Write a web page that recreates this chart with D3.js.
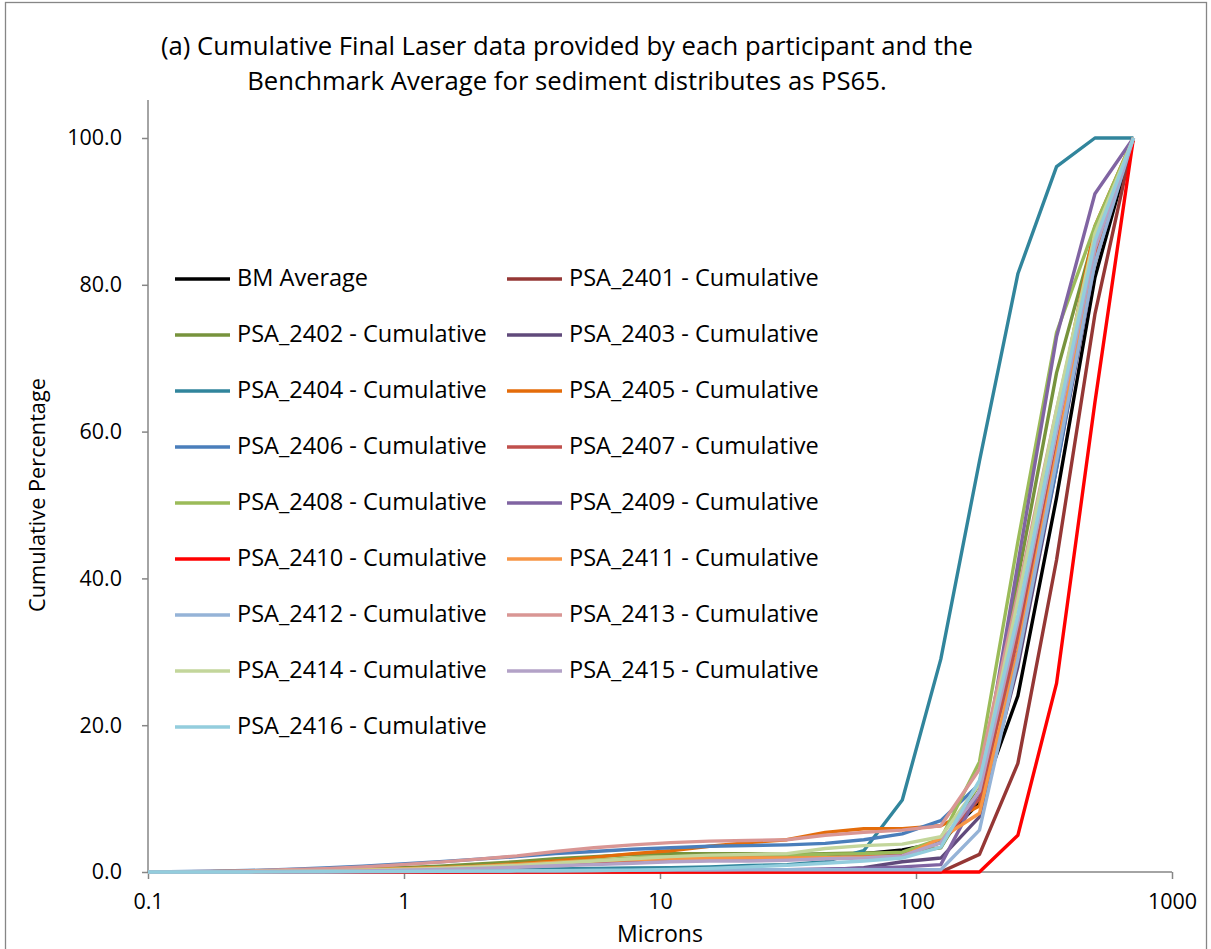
<!DOCTYPE html>
<html>
<head>
<meta charset="utf-8">
<script src="https://cdn.jsdelivr.net/npm/d3@7"></script>
<style>
  html, body { margin: 0; padding: 0; background: #fff; }
  svg { display: block; font-family: "Open Sans", Lato, sans-serif; }
</style>
</head>
<body>
<svg id="chart" width="1211" height="949"></svg>
<script>
// ---- data ----
const sizes = [0.1, 0.122, 0.173, 0.244, 0.345, 0.488, 0.691, 0.977, 1.38, 1.95, 2.76, 3.91, 5.52, 7.81, 11.0, 15.6, 22.1, 31.3, 44.2, 62.5, 88.4, 125, 177, 250, 354, 500, 707];

const seriesNames = ["BM Average", "PSA_2401 - Cumulative", "PSA_2402 - Cumulative", "PSA_2403 - Cumulative",
  "PSA_2404 - Cumulative", "PSA_2405 - Cumulative", "PSA_2406 - Cumulative", "PSA_2407 - Cumulative",
  "PSA_2408 - Cumulative", "PSA_2409 - Cumulative", "PSA_2410 - Cumulative", "PSA_2411 - Cumulative",
  "PSA_2412 - Cumulative", "PSA_2413 - Cumulative", "PSA_2414 - Cumulative", "PSA_2415 - Cumulative",
  "PSA_2416 - Cumulative"];

const seriesColors = ["#000000", "#953735", "#77933C", "#604A7B", "#31859C", "#E46C0A", "#4A7EBB", "#C0504D",
  "#9BBB59", "#8064A2", "#FF0000", "#F79646", "#95B3D7", "#D99694", "#C3D69B", "#B3A2C7", "#93CDDD"];

const bmAverage = [0,0,0.02,0.05,0.1,0.15,0.25,0.35,0.5,0.7,0.9,1.1,1.3,1.5,1.7,1.8,1.9,2.0,2.2,2.5,3.0,4.0,9.5,24,51,81,100];
const psa2401 = [0,0,0,0,0,0,0,0,0,0,0,0,0,0,0,0,0,0,0,0,0,0,2.4,14.8,42.5,76,100];
const psa2402 = [0,0.02,0.05,0.1,0.2,0.3,0.45,0.6,0.8,1.1,1.4,1.8,2.1,2.4,2.5,2.5,2.5,2.4,2.5,2.6,2.6,3.3,12,40,68,87,100];
const psa2403 = [0,0,0,0,0,0,0,0.02,0.03,0.05,0.05,0.08,0.1,0.1,0.1,0.1,0.15,0.2,0.3,0.6,1.4,1.9,7.5,28,55,83,100];
const psa2404 = [0,0,0.01,0.02,0.05,0.08,0.12,0.18,0.25,0.3,0.35,0.4,0.5,0.55,0.6,0.7,0.9,1.0,1.4,2.9,9.8,29,56,81.5,96.1,100,100];
const psa2405 = [0,0.01,0.03,0.08,0.15,0.25,0.35,0.45,0.6,0.8,1.1,1.5,2.0,2.5,2.9,3.5,4.0,4.4,5.4,5.9,5.9,6.3,9,33,62,88,100];
const psa2406 = [0,0.05,0.1,0.2,0.35,0.55,0.8,1.1,1.4,1.75,2.1,2.5,2.8,3.1,3.3,3.5,3.6,3.7,3.9,4.4,5.2,7.0,12,30,55,84,100];
const psa2407 = [0,0.01,0.02,0.05,0.1,0.15,0.25,0.35,0.5,0.7,0.9,1.1,1.3,1.5,1.7,1.8,1.9,1.9,2.0,2.1,2.3,4.0,10,32,58,84,100];
const psa2408 = [0,0.01,0.03,0.06,0.12,0.2,0.3,0.4,0.55,0.75,1.0,1.3,1.6,1.9,2.1,2.2,2.3,2.3,2.4,2.5,2.7,4.5,15,45,73.5,88,100];
const psa2409 = [0,0,0,0,0,0,0.01,0.02,0.03,0.05,0.06,0.08,0.1,0.12,0.15,0.2,0.25,0.3,0.4,0.5,0.7,1.0,11,42,72.9,92.4,100];
const psa2410 = [0,0,0,0,0,0,0,0,0,0,0,0,0,0,0,0,0,0,0,0,0,0,0,5.0,25.7,64,100];
const psa2411 = [0,0.01,0.03,0.06,0.1,0.18,0.28,0.4,0.55,0.75,1.0,1.3,1.55,1.7,1.8,1.85,1.9,1.9,1.95,2.0,2.1,4.6,8.0,30,57,85,100];
const psa2412 = [0,0,0,0.01,0.02,0.04,0.06,0.08,0.1,0.12,0.15,0.18,0.2,0.22,0.25,0.27,0.3,0.3,0.3,0.3,0.3,0.3,5.7,29,56,83,100];
const psa2413 = [0,0.02,0.06,0.15,0.3,0.45,0.7,1.0,1.35,1.75,2.2,2.8,3.3,3.7,4.0,4.2,4.3,4.4,5.0,5.4,5.7,6.3,14,38,63,86,100];
const psa2414 = [0,0.01,0.02,0.05,0.1,0.15,0.25,0.35,0.5,0.7,0.9,1.2,1.5,1.8,2.1,2.3,2.4,2.5,3.2,3.6,3.8,4.8,12,37,63,87,100];
const psa2415 = [0,0,0.01,0.03,0.06,0.1,0.15,0.25,0.35,0.5,0.65,0.85,1.0,1.2,1.4,1.5,1.5,1.6,1.8,1.9,2.2,4.0,11,34,60,85,100];
const psa2416 = [0,0,0,0.01,0.02,0.03,0.05,0.07,0.1,0.12,0.15,0.18,0.2,0.25,0.35,0.5,0.7,0.9,1.2,1.5,1.9,3.4,12.5,35,61,86,100];

const seriesValues = [bmAverage, psa2401, psa2402, psa2403, psa2404, psa2405, psa2406, psa2407, psa2408,
  psa2409, psa2410, psa2411, psa2412, psa2413, psa2414, psa2415, psa2416];

const xTicks = [0.1, 1, 10, 100, 1000];
const yTicks = [0, 20, 40, 60, 80, 100];
const titleLines = ["(a) Cumulative Final Laser data provided by each participant and the",
  "Benchmark Average for sediment distributes as PS65."];

// ---- drawing ----
const svg = d3.select("#chart");
const axisColor = "#868686";
const FONT = "'Open Sans', Lato, sans-serif";

// fit a text element's font-size so its width matches a target width
function fitWidth(sel, target) {
  const node = sel.node();
  const fs = parseFloat(sel.attr("font-size"));
  const w = node.getComputedTextLength();
  if (w > 0) sel.attr("font-size", (fs * target / w).toFixed(2));
  return sel;
}

svg.append("rect").attr("x", 5.5).attr("y", 2.5).attr("width", 1201).attr("height", 980)
  .attr("fill", "none").attr("stroke", axisColor).attr("stroke-width", 1.3);

const x = d3.scaleLog().domain([0.1, 1000]).range([148, 1172]);
const y = d3.scaleLinear().domain([0, 100]).range([872, 138]);

// title
const t1 = svg.append("text").attr("x", 567).attr("y", 55).attr("text-anchor", "middle")
  .attr("font-size", 22).attr("fill", "#000").text(titleLines[0]);
fitWidth(t1, 812);
const titleFs = t1.attr("font-size");
svg.append("text").attr("x", 567).attr("y", 90).attr("text-anchor", "middle")
  .attr("font-size", titleFs).attr("fill", "#000").text(titleLines[1]);

const tickFs = 21.5;

// y axis
const yAxis = d3.axisLeft(y).tickValues(yTicks).tickFormat(d3.format(".1f")).tickSize(6).tickPadding(20);
const gy = svg.append("g").attr("transform", "translate(148,0)").call(yAxis);
gy.attr("font-size", tickFs).attr("font-family", FONT);
gy.select(".domain").attr("d", "M0,100V872").attr("stroke", axisColor).attr("stroke-width", 1.5);
gy.selectAll(".tick line").attr("stroke", axisColor).attr("stroke-width", 1.5);
gy.selectAll(".tick text").style("font-size", tickFs + "px").attr("fill", "#000");

// x axis
const xAxis = d3.axisBottom(x).tickValues(xTicks).tickFormat(d => String(d)).tickSize(7).tickPadding(15);
const gx = svg.append("g").attr("transform", "translate(0,872)").call(xAxis);
gx.attr("font-size", tickFs).attr("font-family", FONT);
gx.select(".domain").attr("d", "M148,0H1172").attr("stroke", axisColor).attr("stroke-width", 1.5);
gx.selectAll(".tick line").attr("stroke", axisColor).attr("stroke-width", 1.5);
gx.selectAll(".tick text").style("font-size", tickFs + "px").attr("fill", "#000");

// axis titles
const xt = svg.append("text").attr("x", 660).attr("y", 942).attr("text-anchor", "middle")
  .attr("font-size", 19).attr("fill", "#000").text("Microns");
fitWidth(xt, 86);
const yt = svg.append("text").attr("transform", "translate(45,495) rotate(-90)").attr("text-anchor", "middle")
  .attr("font-size", 19).attr("fill", "#000").text("Cumulative Percentage");
fitWidth(yt, 234);

// lines
const line = d3.line().x(d => x(d[0])).y(d => y(d[1]));
svg.append("g").selectAll("path").data(seriesValues).join("path")
  .attr("d", vals => line(sizes.map((s, i) => [s, vals[i]])))
  .attr("fill", "none")
  .attr("stroke", (d, i) => seriesColors[i])
  .attr("stroke-width", 3.4)
  .attr("stroke-linejoin", "round");

// legend
const legend = svg.append("g");
const lp = legend.append("text").attr("font-size", 20).text("PSA_2401 - Cumulative");
fitWidth(lp, 250);
const legFs = lp.attr("font-size");
lp.remove();
seriesNames.forEach((name, i) => {
  const col = i % 2, row = Math.floor(i / 2);
  const lx = col === 0 ? 175 : 507;
  const ly = 279 + row * 56;
  legend.append("line").attr("x1", lx).attr("x2", lx + 55).attr("y1", ly).attr("y2", ly)
    .attr("stroke", seriesColors[i]).attr("stroke-width", 3.4);
  legend.append("text").attr("x", lx + 62).attr("y", ly + 7).attr("font-size", legFs)
    .attr("fill", "#000").text(name);
});
</script>
</body>
</html>
